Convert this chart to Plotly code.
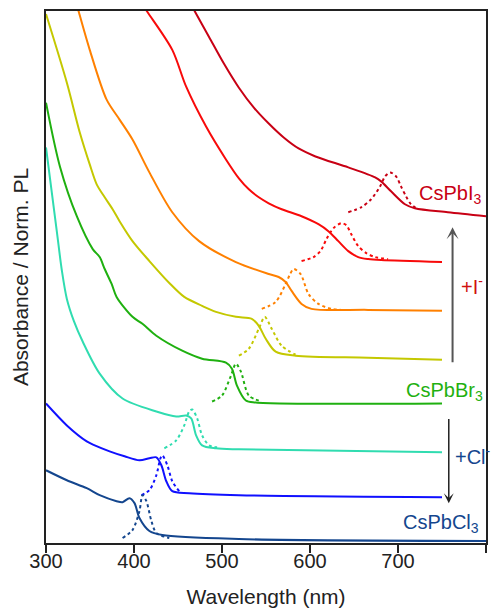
import plotly.graph_objects as go

# ---- data (wavelength in nm, absorbance / PL with vertical offsets, a.u.) ----
i3_abs_x = [456, 469.5, 485.3, 502.3, 519.2, 536.2, 553.1, 570.1, 587.0, 606.2, 643.5, 674.0, 680.8, 692.1, 707.9, 719.2, 756.5, 800]
i3_abs_y = [555, 533, 508, 481, 457, 437, 421, 407, 396, 388, 377, 367, 363, 353, 340, 336, 332, 328]
i3_pl_x = [643.5, 658.2, 669.5, 679.7, 685.3, 691.0, 697.8, 703.4, 709.1, 714.7, 722.6]
i3_pl_y = [332, 337, 345, 358, 368, 372, 368, 358, 348, 340, 335]

ri_abs_x = [398.3, 415.3, 443.5, 459.3, 481.9, 504.5, 519.2, 530.5, 541.8, 553.1, 567.8, 590.4, 609.6, 620.9, 632.2, 643.5, 654.8, 666.1, 680.8, 750]
ri_abs_y = [555, 533, 495, 458, 418, 385, 366, 355, 347, 341, 335, 328, 320, 313, 303, 293, 287, 285, 284, 282]
ri_pl_x = [590.4, 604.0, 611.9, 618.7, 626.6, 635.6, 641.3, 646.9, 654.8, 663.9, 674.0, 688.7]
ri_pl_y = [283, 287, 293, 305, 316, 321, 319, 310, 298, 291, 287, 285]

or_abs_x = [330.5, 337.3, 349.7, 368.9, 383.6, 398.3, 417.5, 443.5, 474.0, 515.8, 553.1, 564.4, 572.3, 579.1, 590.4, 601.7, 666.1, 750]
or_abs_y = [555, 533, 495, 445, 425, 405, 372, 332, 303, 282, 270, 267, 262, 253, 240, 235, 234, 233]
or_pl_x = [545.2, 561.0, 572.3, 576.9, 581.4, 589.3, 598.3, 609.6, 624.3, 635.6]
or_pl_y = [235, 242, 260, 269, 275, 270, 250, 240, 235, 234]

ye_abs_x = [300, 323.7, 338.4, 349.7, 357.6, 366.7, 375.7, 383.6, 398.3, 417.5, 440.1, 457.1, 477.4, 493.2, 515.8, 533.9, 541.8, 549.7, 561.0, 583.6, 666.1, 750]
ye_abs_y = [531, 462, 412, 380, 360, 347, 335, 323, 303, 283, 261, 247, 238, 232, 227, 225, 218, 205, 192, 188, 186, 184]
ye_pl_x = [519.2, 530.5, 541.8, 548.6, 556.5, 567.8, 583.6]
ye_pl_y = [188, 195, 215, 227, 215, 198, 189]

br_abs_x = [300, 315.8, 335.0, 353.1, 361.0, 366.7, 374.6, 380.2, 398.3, 409.6, 425.4, 454.8, 477.4, 504.5, 511.3, 517.0, 527.1, 538.4, 750]
br_abs_y = [442, 378, 328, 295, 287, 275, 260, 247, 227, 220, 208, 193, 185, 181, 175, 158, 143, 141, 140]
br_pl_x = [488.7, 500.0, 510.2, 515.8, 521.5, 530.5, 545.2]
br_pl_y = [142, 148, 168, 180, 172, 148, 142]

cy_abs_x = [300, 312.4, 318.1, 323.7, 331.6, 341.8, 361.0, 387.0, 425.4, 448.0, 459.3, 465.0, 470.6, 477.4, 493.2, 519.2, 750]
cy_abs_y = [397, 312, 273, 245, 223, 202, 170, 145, 132, 127, 128, 125, 108, 98, 95, 94, 91]
cy_pl_x = [434.5, 448.0, 457.1, 462.7, 466.1, 471.8, 477.4, 485.3, 494.4]
cy_pl_y = [95, 103, 118, 132, 134, 125, 108, 98, 96]

bl_abs_x = [300, 323.7, 346.3, 355.4, 372.3, 389.3, 406.2, 417.5, 425.4, 431.1, 436.7, 443.5, 462.7, 519.2, 750]
bl_abs_y = [140, 118, 102, 98, 92, 87, 83, 85, 86, 78, 62, 52, 50, 48, 46]
bl_pl_x = [408.5, 417.5, 425.4, 430.0, 432.2, 437.9, 443.5, 451.4]
bl_pl_y = [48, 53, 68, 85, 88, 78, 62, 52]

cl_abs_x = [300, 323.7, 346.3, 361.0, 380.2, 387.0, 394.9, 400.6, 406.2, 417.5, 432.2, 519.2, 800]
cl_abs_y = [73, 63, 55, 48, 42, 41, 45, 40, 25, 12, 8, 4, 2]
cl_pl_x = [387.0, 398.3, 406.2, 409.6, 414.1, 419.8, 425.4, 440.1]
cl_pl_y = [5, 13, 32, 48, 42, 22, 10, 5]

x_ticks = [300, 400, 500, 600, 700, 800]

series = [
    (i3_abs_x, i3_abs_y, i3_pl_x, i3_pl_y, "#c80014"),
    (ri_abs_x, ri_abs_y, ri_pl_x, ri_pl_y, "#f80a0a"),
    (or_abs_x, or_abs_y, or_pl_x, or_pl_y, "#ff8000"),
    (ye_abs_x, ye_abs_y, ye_pl_x, ye_pl_y, "#c4c800"),
    (br_abs_x, br_abs_y, br_pl_x, br_pl_y, "#1fb010"),
    (cy_abs_x, cy_abs_y, cy_pl_x, cy_pl_y, "#30dcb0"),
    (bl_abs_x, bl_abs_y, bl_pl_x, bl_pl_y, "#1010ff"),
    (cl_abs_x, cl_abs_y, cl_pl_x, cl_pl_y, "#14468e"),
]

fig = go.Figure()
for ax_, ay_, px_, py_, col in series:
    fig.add_trace(go.Scatter(x=ax_, y=ay_, mode="lines", line=dict(color=col, width=2, shape="spline", smoothing=0.85),
                             showlegend=False, hoverinfo="skip"))
    fig.add_trace(go.Scatter(x=px_, y=py_, mode="lines", line=dict(color=col, width=2, dash="3px,3px", shape="spline", smoothing=0.8),
                             showlegend=False, hoverinfo="skip"))

font_family = "Liberation Sans, Arial, Helvetica, sans-serif"

annos = [
    dict(x=797, y=350, text="CsPbI<sub>3</sub>", color="#c80014", xanchor="right"),
    dict(x=799, y=152, text="CsPbBr<sub>3</sub>", color="#1fb010", xanchor="right"),
    dict(x=794, y=20, text="CsPbCl<sub>3</sub>", color="#14468e", xanchor="right"),
    dict(x=784, y=258, text="+I<sup>-</sup>", color="#d01010", xanchor="center"),
    dict(x=785, y=88, text="+Cl<sup>-</sup>", color="#14468e", xanchor="center"),
]
for a in annos:
    fig.add_annotation(x=a["x"], y=a["y"], xref="x", yref="y", text=a["text"], showarrow=False,
                       xanchor=a["xanchor"], yanchor="middle",
                       font=dict(family=font_family, size=20, color=a["color"]))

# arrows
fig.add_annotation(x=762, y=317, ax=762, ay=180, xref="x", yref="y", axref="x", ayref="y", text="",
                   showarrow=True, arrowhead=3, arrowsize=1, arrowwidth=2, arrowcolor="#555555")
fig.add_annotation(x=757.7, y=40, ax=757.7, ay=126, xref="x", yref="y", axref="x", ayref="y", text="",
                   showarrow=True, arrowhead=3, arrowsize=1.1, arrowwidth=1.5, arrowcolor="#222222")

fig.update_layout(
    width=493, height=610,
    margin=dict(l=46, r=5, t=11, b=65),
    plot_bgcolor="white", paper_bgcolor="white",
    font=dict(family=font_family, size=20, color="#222222"),
    xaxis=dict(range=[300, 800], tickvals=x_ticks, ticks="outside", ticklen=8, tickwidth=2, tickcolor="#222222",
               ticklabelstandoff=-9,
               showline=True, linewidth=2, linecolor="#222222", mirror=True, showgrid=False, zeroline=False,
               tickfont=dict(size=20), title=dict(text="Wavelength (nm)", font=dict(size=21), standoff=18)),
    yaxis=dict(range=[0, 534], showticklabels=False, ticks="", showline=True, linewidth=2, linecolor="#222222",
               mirror=True, showgrid=False, zeroline=False,
               title=dict(text="Absorbance / Norm. PL", font=dict(size=21), standoff=10)),
)

fig.write_html("out.html", config={"displayModeBar": False},
               post_script="document.body.style.margin='0';document.body.style.overflow='hidden';")
